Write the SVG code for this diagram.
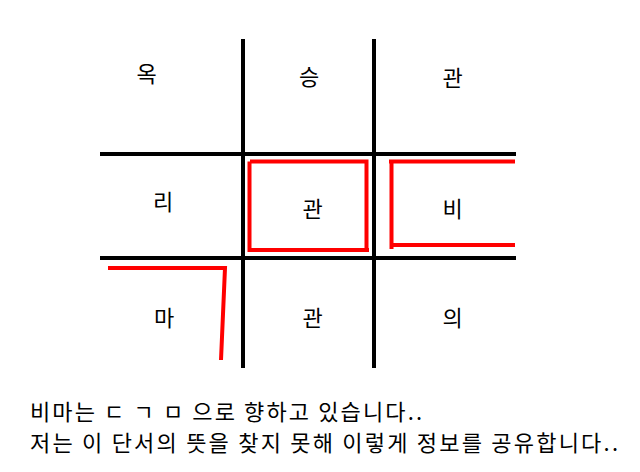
<svg xmlns="http://www.w3.org/2000/svg" width="640" height="472" viewBox="0 0 640 472">
<style>
.g{stroke:#000;stroke-width:4;fill:none}
.r{stroke:#ff0000;stroke-width:4;fill:none;stroke-linejoin:miter}
.t{font-family:"Noto Sans CJK KR","Noto Sans",sans-serif;font-size:22px;fill:#000;text-anchor:middle}
.b{font-family:"Noto Sans CJK KR","Noto Sans",sans-serif;font-size:22px;fill:#000}
</style>
<rect width="640" height="472" fill="#fff"/>
<g id="grid">
<line class="g" x1="243" y1="39" x2="243" y2="368"/>
<line class="g" x1="374" y1="39" x2="374" y2="368"/>
<line class="g" x1="100" y1="154" x2="516" y2="154"/>
<line class="g" x1="100" y1="258" x2="516" y2="258"/>
</g>
<g id="marks">
<path class="r" d="M250,161.5 H366.5 V249 M249.5,161.5 V250 H369"/>
<path class="r" d="M515,161.5 H389 M391.5,161 V249 M391.5,245 H515"/>
<path class="r" d="M108,268 H225 L221,360"/>
</g>
<g id="c1"><text class="t" x="146.5" y="82">옥</text></g>
<g id="c2"><text class="t" x="309" y="85">승</text></g>
<g id="c3"><text class="t" x="452.5" y="86">관</text></g>
<g id="c4"><text class="t" x="163" y="210">리</text></g>
<g id="c5"><text class="t" x="312.5" y="217">관</text></g>
<g id="c6"><text class="t" x="452.5" y="217">비</text></g>
<g id="c7"><text class="t" x="164" y="326">마</text></g>
<g id="c8"><text class="t" x="312.5" y="326">관</text></g>
<g id="c9"><text class="t" x="452.5" y="326">의</text></g>
<g id="caption">
<text class="b" x="30" y="420" textLength="392" lengthAdjust="spacing">비마는 ㄷ ㄱ ㅁ 으로 향하고 있습니다..</text>
<text class="b" x="30" y="451" textLength="588" lengthAdjust="spacing">저는 이 단서의 뜻을 찾지 못해 이렇게 정보를 공유합니다..</text>
</g>
</svg>
